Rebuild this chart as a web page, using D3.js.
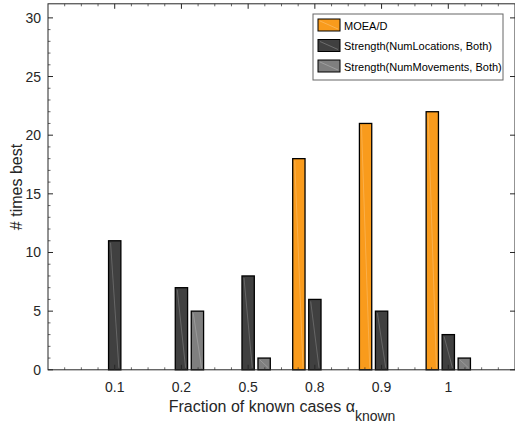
<!DOCTYPE html>
<html>
<head>
<meta charset="utf-8">
<script src="https://cdn.jsdelivr.net/npm/d3@7"></script>
<style>
body{margin:0;background:#fff;}
text{font-family:"Liberation Sans",Arial,sans-serif;fill:#262626;}
</style>
</head>
<body>
<div class="chart_div"></div>
<script>
var categories = ["0.1","0.2","0.5","0.8","0.9","1"];
var series = ["MOEA/D","Strength(NumLocations, Both)","Strength(NumMovements, Both)"];
var moead = [0,0,0,18,21,22];
var numLocations = [11,7,8,6,5,3];
var numMovements = [0,5,1,0,0,1];
var yTicks = [0,5,10,15,20,25,30];
var colors = ["#f99b1c","#404040","#7f7f7f"];

var W = 515, H = 423;
var svg = d3.select(".chart_div").append("svg")
	.attr("width",W)
	.attr("height",H);

var x = d3.scaleLinear().domain([0,7]).range([48,515]);
var y = d3.scaleLinear().domain([0,31.2]).range([369.8,3.8]);
var sub = d3.scaleBand().domain(series)
	.range([-(x(0.332)-x(0)),x(0.332)-x(0)])
	.paddingInner(0.23);

var allSeries = [moead,numLocations,numMovements];

// bars
allSeries.forEach(function(vals,s){
	var g = svg.append("g").attr("class","series"+s);
	var bars = g.selectAll("g")
		.data(vals.map(function(v,i){ return {v:v,i:i}; }).filter(function(d){ return d.v>0; }))
		.enter()
		.append("g");
	bars.append("rect")
		.attr("x",function(d){ return x(d.i+1)+sub(series[s]); })
		.attr("y",function(d){ return y(d.v); })
		.attr("width",sub.bandwidth())
		.attr("height",function(d){ return y(0)-y(d.v); })
		.attr("fill",colors[s])
		.attr("stroke","#000")
		.attr("stroke-width",1.3);
	// faint diagonal highlight seen in the original render
	bars.append("line")
		.attr("x1",function(d){ return x(d.i+1)+sub(series[s])+2; })
		.attr("y1",function(d){ return y(d.v)+2; })
		.attr("x2",function(d){ return x(d.i+1)+sub(series[s])+sub.bandwidth()-2; })
		.attr("y2",function(d){ return y(0)-2; })
		.attr("stroke","#fff")
		.attr("stroke-opacity",0.25)
		.attr("stroke-width",0.8);
});

// axes box
var axColor = "#262626";
svg.append("rect")
	.attr("x",x(0)).attr("y",y(31.2))
	.attr("width",x(7)-x(0)).attr("height",y(0)-y(31.2))
	.attr("fill","none").attr("stroke",axColor).attr("stroke-width",1);

// y ticks (inward, both sides)
svg.selectAll(".ytick").data(yTicks).enter().append("line")
	.attr("x1",x(0)).attr("x2",x(0)+5)
	.attr("y1",function(d){ return y(d); }).attr("y2",function(d){ return y(d); })
	.attr("stroke",axColor);
svg.selectAll(".ytickr").data(yTicks).enter().append("line")
	.attr("x1",x(7)).attr("x2",x(7)-5)
	.attr("y1",function(d){ return y(d); }).attr("y2",function(d){ return y(d); })
	.attr("stroke",axColor);
svg.selectAll(".ylab").data(yTicks).enter().append("text")
	.attr("x",x(0)-7)
	.attr("y",function(d){ return y(d)+5; })
	.attr("text-anchor","end")
	.attr("font-size",14)
	.text(function(d){ return d; });

// y minor ticks
svg.selectAll(".yminor").data(d3.range(0,31,1).filter(function(d){ return d%5!=0; })).enter().append("line")
	.attr("x1",x(0)).attr("x2",x(0)+2.5)
	.attr("y1",function(d){ return y(d); }).attr("y2",function(d){ return y(d); })
	.attr("stroke",axColor).attr("stroke-width",0.7);

// x ticks top and bottom
var xMajor = d3.range(1,7);
svg.selectAll(".xtick").data(xMajor).enter().append("line")
	.attr("x1",function(d){ return x(d); }).attr("x2",function(d){ return x(d); })
	.attr("y1",y(0)).attr("y2",y(0)-5)
	.attr("stroke",axColor);
svg.selectAll(".xtickt").data(xMajor).enter().append("line")
	.attr("x1",function(d){ return x(d); }).attr("x2",function(d){ return x(d); })
	.attr("y1",y(31.2)).attr("y2",y(31.2)+5)
	.attr("stroke",axColor);
var xMinor = d3.range(0.25,7,0.25).filter(function(d){ return d%1!=0; });
svg.selectAll(".xminor").data(xMinor).enter().append("line")
	.attr("x1",function(d){ return x(d); }).attr("x2",function(d){ return x(d); })
	.attr("y1",y(0)).attr("y2",y(0)-2.5)
	.attr("stroke",axColor).attr("stroke-width",0.7);
svg.selectAll(".xminort").data(xMinor).enter().append("line")
	.attr("x1",function(d){ return x(d); }).attr("x2",function(d){ return x(d); })
	.attr("y1",y(31.2)).attr("y2",y(31.2)+2.5)
	.attr("stroke",axColor).attr("stroke-width",0.7);
svg.selectAll(".xlab").data(categories).enter().append("text")
	.attr("x",function(d,i){ return x(i+1); })
	.attr("y",392)
	.attr("text-anchor","middle")
	.attr("font-size",14)
	.text(function(d){ return d; });

// axis titles
var xt = svg.append("text")
	.attr("x",282).attr("y",412)
	.attr("text-anchor","middle")
	.attr("font-size",16);
xt.append("tspan").text("Fraction of known cases \u03b1");
xt.append("tspan").attr("dy",9).attr("font-size",14).text("known");

svg.append("text")
	.attr("transform","translate(22,187) rotate(-90)")
	.attr("text-anchor","middle")
	.attr("font-size",16)
	.text("# times best");

// legend
var lg = svg.append("g").attr("class","legend");
lg.append("rect")
	.attr("x",313).attr("y",14).attr("width",190).attr("height",66)
	.attr("fill","#fff").attr("stroke","#666").attr("stroke-width",1);
var rows = lg.selectAll("g").data(series).enter().append("g");
rows.append("rect")
	.attr("x",318).attr("width",22)
	.attr("y",function(d,i){ return 19+i*20.5; })
	.attr("height",12)
	.attr("fill",function(d,i){ return colors[i]; })
	.attr("stroke","#000");
rows.append("line")
	.attr("x1",320).attr("x2",338)
	.attr("y1",function(d,i){ return 21+i*20.5; })
	.attr("y2",function(d,i){ return 29+i*20.5; })
	.attr("stroke","#fff").attr("stroke-opacity",0.3).attr("stroke-width",0.8);
rows.append("text")
	.attr("x",344)
	.attr("y",function(d,i){ return 29.5+i*20.5; })
	.attr("font-size",11)
	.style("fill","#000")
	.text(function(d){ return d; });
</script>
</body>
</html>
